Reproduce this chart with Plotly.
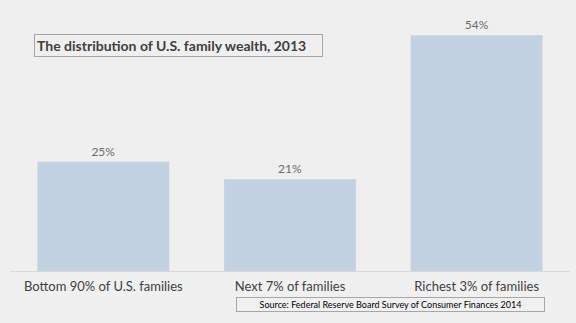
import plotly.graph_objects as go

categories = ["Bottom 90% of U.S. families", "Next 7% of families", "Richest 3% of families"]
shares = [25, 21, 54]
labels = [f"{v}%" for v in shares]

title_text = "The distribution of U.S. family wealth, 2013"
source_text = "Source: Federal Reserve Board Survey of Consumer Finances 2014"

fig = go.Figure(
    go.Bar(
        x=categories,
        y=shares,
        text=labels,
        textposition="outside",
        textfont=dict(family="Lato, Open Sans, sans-serif", size=12, color="#6b6b6b"),
        marker=dict(color="#c2d2e2", line=dict(width=0)),
        width=0.706,
        cliponaxis=False,
    )
)

fig.update_layout(
    width=576,
    height=323,
    margin=dict(l=9.5, r=5.5, t=9, b=52),
    paper_bgcolor="#f0f0f0",
    plot_bgcolor="#efefef",
    showlegend=False,
    font=dict(family="Lato, Open Sans, sans-serif", color="#404040"),
    xaxis=dict(
        showgrid=False,
        showline=True,
        linecolor="#d9d9d9",
        linewidth=1,
        ticks="",
        tickfont=dict(size=13, color="#404040"),
        ticklabelstandoff=3,
    ),
    yaxis=dict(
        range=[0, 60],
        visible=False,
        showgrid=False,
        zeroline=False,
    ),
    annotations=[
        dict(
            text="<b>" + title_text + "</b>",
            xref="paper", yref="paper",
            x=(34 - 9.5) / 561, y=(271 - 34) / 262,
            xanchor="left", yanchor="top",
            showarrow=False,
            font=dict(size=14, color="#404040"),
            bordercolor="#a6a6a6", borderwidth=1,
            borderpad=2,
            width=283, align="left",
        ),
        dict(
            text=source_text,
            xref="paper", yref="paper",
            x=(236 - 9.5) / 561, y=(271 - 297) / 262,
            xanchor="left", yanchor="top",
            showarrow=False,
            font=dict(size=9, color="#000000"),
            bordercolor="#a6a6a6", borderwidth=1,
            borderpad=1,
            width=305, align="center",
        ),
    ],
)

fig.write_html("out.html")
